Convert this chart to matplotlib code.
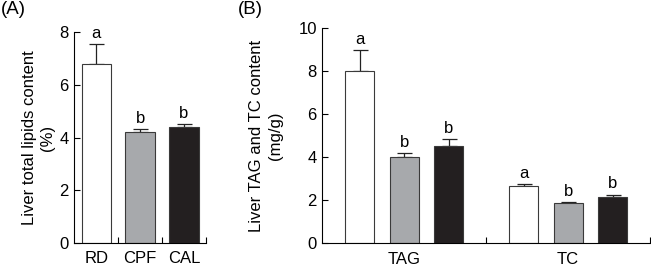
import matplotlib.pyplot as plt
import numpy as np

plt.rcParams['font.family'] = ['Liberation Sans', 'DejaVu Sans']
plt.rcParams['font.size'] = 12

# panel A: liver total lipids (%)
diets = ['RD', 'CPF', 'CAL']
lipids = [6.8, 4.2, 4.42]
lipids_err = [0.75, 0.13, 0.11]
lipids_sig = ['a', 'b', 'b']

# panel B: TAG and TC (mg/g)
groups = ['TAG', 'TC']
rd_vals = [8.0, 2.68]
cpf_vals = [4.0, 1.88]
cal_vals = [4.53, 2.14]
rd_err = [1.0, 0.07]
cpf_err = [0.2, 0.05]
cal_err = [0.32, 0.12]
rd_sig = ['a', 'a']
cpf_sig = ['b', 'b']
cal_sig = ['b', 'b']

colors = ['white', '#a7a9ac', '#231f20']
edge = '#3a3a3a'

fig = plt.figure(figsize=(6.51, 2.72), dpi=100)
axA = fig.add_axes([0.1141, 0.1066, 0.2023, 0.7746])
axB = fig.add_axes([0.4951, 0.1055, 0.5034, 0.7904])


def style(ax):
    ax.spines['top'].set_visible(False)
    ax.spines['right'].set_visible(False)
    for s in ['left', 'bottom']:
        ax.spines[s].set_linewidth(0.8)
    ax.tick_params(axis='both', which='major', direction='in', length=4, width=0.8)
    ax.tick_params(axis='x', which='minor', length=0, pad=6)
    ax.tick_params(axis='y', pad=4)


# ---- panel A
x = np.arange(len(diets))
axA.bar(x, lipids, width=0.67, color=colors, edgecolor=edge, linewidth=0.8, zorder=2)
axA.errorbar(x, lipids, yerr=[np.zeros(3), lipids_err], fmt='none', ecolor='#222222',
             elinewidth=0.9, capsize=5.4, capthick=0.9, zorder=1)
for xi, v, e, s in zip(x, lipids, lipids_err, lipids_sig):
    axA.text(xi, v + e + 0.12, s, ha='center', va='bottom', fontsize=12)
axA.set_xlim(-0.5, 2.5)
axA.set_ylim(0, 8)
axA.set_yticks([0, 2, 4, 6, 8])
axA.set_xticks([0.5, 1.5, 2.5])
axA.set_xticklabels([])
axA.set_xticks(x, minor=True)
axA.set_xticklabels(diets, minor=True)
axA.set_ylabel('Liver total lipids content\n(%)', labelpad=3, linespacing=1.3)
style(axA)

# ---- panel B
gx = np.arange(len(groups))
off = 0.271
w = 0.178
series = [(rd_vals, rd_err, rd_sig), (cpf_vals, cpf_err, cpf_sig), (cal_vals, cal_err, cal_sig)]
for i, (vals, errs, sigs) in enumerate(series):
    xs = gx + (i - 1) * off
    axB.bar(xs, vals, width=w, color=colors[i], edgecolor=edge, linewidth=0.8, zorder=2)
    axB.errorbar(xs, vals, yerr=[np.zeros(len(vals)), errs], fmt='none', ecolor='#222222',
                 elinewidth=0.9, capsize=5.4, capthick=0.9, zorder=1)
    for xi, v, e, s in zip(xs, vals, errs, sigs):
        axB.text(xi, v + e + 0.15, s, ha='center', va='bottom', fontsize=12)
axB.set_xlim(-0.5, 1.5)
axB.set_ylim(0, 10)
axB.set_yticks([0, 2, 4, 6, 8, 10])
axB.set_xticks([0.5, 1.5])
axB.set_xticklabels([])
axB.set_xticks(gx, minor=True)
axB.set_xticklabels(groups, minor=True)
axB.set_ylabel('Liver TAG and TC content\n(mg/g)', labelpad=11, linespacing=1.3)
style(axB)

fig.text(0.002, 0.998, '(A)', ha='left', va='top', fontsize=13.5)
fig.text(0.365, 0.998, '(B)', ha='left', va='top', fontsize=13.5)

fig.savefig('out.png', dpi=100)
